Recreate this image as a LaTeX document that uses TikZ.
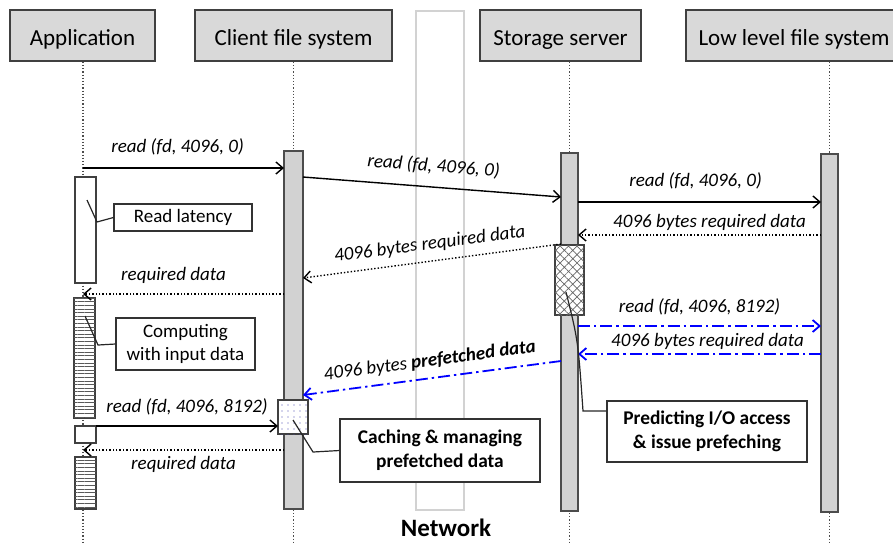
\documentclass[tikz,border=0pt]{standalone}
\usepackage{fontspec}
\setmainfont{Carlito}
\usetikzlibrary{arrows.meta,patterns.meta}

\tikzset{
  head/.style={draw=black!75, line width=0.7pt, fill=gray!30, minimum height=25.5pt,
    inner sep=0pt, text height=2.3ex, text depth=0.2ex, font=\fontsize{11.5}{13}\selectfont},
  life/.style={draw=black!70, line width=0.6pt, densely dotted},
  bar/.style={draw=black!70, line width=0.6pt, fill=gray!35, anchor=north west,
    outer sep=0pt, inner sep=0pt, minimum width=8.5pt, minimum height=179pt},
  abox/.style={draw=black!75, line width=0.6pt, fill=white, anchor=north west,
    outer sep=0pt, inner sep=0pt, minimum width=10.5pt},
  stripes/.style={postaction={pattern={Lines[distance=1.8pt, line width=0.4pt]}, pattern color=black!65}},
  hatchbox/.style={postaction={pattern={Hatch[angle=45, distance=3pt, line width=0.35pt]}, pattern color=black!60}},
  dotbox/.style={postaction={pattern={Dots[distance=3pt, radius=0.3pt]}, pattern color=blue!40!gray}},
  msg/.style={line width=0.7pt, -{Straight Barb[length=3.5pt, width=6pt]}},
  ret/.style={msg, densely dotted},
  pre/.style={msg, blue, line width=0.9pt, dash pattern=on 6pt off 2pt on 1.2pt off 2pt},
  lbl/.style={font=\itshape\fontsize{9.5}{11}\selectfont, inner sep=1pt},
  note/.style={draw=black!80, line width=0.6pt, fill=white, inner sep=0pt, align=center,
    font=\fontsize{9.5}{11.5}\selectfont},
  bnote/.style={note, font=\bfseries\fontsize{9.7}{12}\selectfont},
  pointer/.style={draw=black!85, line width=0.6pt},
}

\begin{document}
\begin{tikzpicture}[x=0.5pt, y=-0.5pt]
\useasboundingbox (0,0) rectangle (893,543);
\clip (0,0) rectangle (893,543);

% network
\node[draw=gray!35, line width=0.8pt, fill=white, anchor=north west, inner sep=0pt,
  minimum width=24pt, minimum height=249.5pt] (netcol) at (415,10) {};
\node[font=\bfseries\fontsize{12.5}{14}\selectfont, inner sep=1pt] (net) at (446,528) {Network};

% headers
\node[head, minimum width=72.5pt] (app) at (82.5,35.5) {Application};
\node[head, minimum width=98.5pt] (cfs) at (293.5,35.5) {Client file system};
\node[head, minimum width=80.5pt] (srv) at (560.5,35.5) {Storage server};
\node[head, minimum width=108pt] (lfs) at (794,35.5) {Low level file system};

% lifelines
\coordinate (aend) at (83,543);
\coordinate (cend) at (293.5,543);
\coordinate (send) at (569.5,543);
\coordinate (lend) at (829.5,543);
\draw[life] (app.south -| aend) -- (aend);
\draw[life] (cfs.south -| cend) -- (cend);
\draw[life] (srv.south -| send) -- (send);
\draw[life] (lfs.south -| lend) -- (lend);

% activation bars
\node[bar, minimum width=9.5pt] (cbar) at (284,151) {};
\node[bar] (sbar) at (561,153) {};
\node[bar] (lbar) at (821,154) {};

\node[abox, minimum height=53pt] (wait1) at (75,177) {};
\node[abox, stripes, minimum height=60pt] (comp1) at (74,298) {};
\node[abox, minimum height=8.5pt] (wait2) at (75,426) {};
\node[abox, stripes, minimum height=26pt] (comp2) at (75,457) {};
\node[abox, hatchbox, minimum width=14.5pt, minimum height=35pt] (pred) at (555,245) {};
\node[abox, dotbox, minimum width=15pt, minimum height=17pt] (cache) at (278,400) {};

% messages
\draw[msg] (aend |- 0,168) -- node[lbl, above=5pt, xshift=-3pt] {read (fd, 4096, 0)} (cbar.west |- 0,168);
\draw[msg] (cbar.east |- 0,177) -- node[lbl, sloped, above=5pt] {read (fd, 4096, 0)} (sbar.west |- 0,197);
\draw[msg] (sbar.east |- 0,202) -- node[lbl, above=5pt, xshift=-2pt] {read (fd, 4096, 0)} (lbar.west |- 0,202);
\draw[ret] (lbar.west |- 0,235) -- node[lbl, above=1pt, xshift=5pt] {4096 bytes required data} (sbar.east |- 0,235);
\draw[ret] (sbar.west |- 0,244) -- node[lbl, sloped, above=3pt] {4096 bytes required data} (cbar.east |- 0,278);
\draw[ret] (cbar.west |- 0,294) -- node[lbl, above=4pt, xshift=-5pt] {required data} (aend |- 0,294);
\draw[pre] (sbar.east |- 0,326) -- node[lbl, above=4pt, text=black] {read (fd, 4096, 8192)} (lbar.west |- 0,326);
\draw[pre] (lbar.west |- 0,354) -- node[lbl, above=1pt, text=black, xshift=4pt] {4096 bytes required data} (sbar.east |- 0,354);
\draw[pre] (sbar.west |- 0,361) -- node[lbl, sloped, above=3pt, text=black] {4096 bytes \textbf{prefetched data}} (cbar.east |- 0,395);
\draw[msg] (wait2.north east) -- node[lbl, above=4pt] {read (fd, 4096, 8192)} (cache.west |- wait2.north);
\draw[ret] (cbar.west |- 0,450) -- node[lbl, below=2pt] {required data} (aend |- 0,450);

% notes
\node[note, minimum width=69pt, minimum height=13.5pt] (rl) at (183,217.5) {Read latency};
\node[note, minimum width=69.5pt, minimum height=26pt] (ci) at (185.5,344) {Computing\\with input data};
\node[bnote, minimum width=100pt, minimum height=31.5pt] (cm) at (440,450.5) {Caching \& managing\\prefetched data};
\node[bnote, minimum width=100pt, minimum height=30.5pt] (pi) at (707,431.5) {Predicting I/O access\\\& issue prefeching};

\coordinate (rlp) at (87,200);
\coordinate (cip) at (85,316);
\coordinate (cmp) at (293,420);
\coordinate (pip) at (566,292);
\draw[pointer] (rlp) -- (97,222) -- (rl.west);
\draw[pointer] (cip) -- (98,345) -- (ci.west);
\draw[pointer] (cmp) -- (313,452) -- (cm.west);
\draw[pointer] (pip) .. controls (578,340) .. (583,411) -- (pi.west |- 0,411);
\end{tikzpicture}
\end{document}
